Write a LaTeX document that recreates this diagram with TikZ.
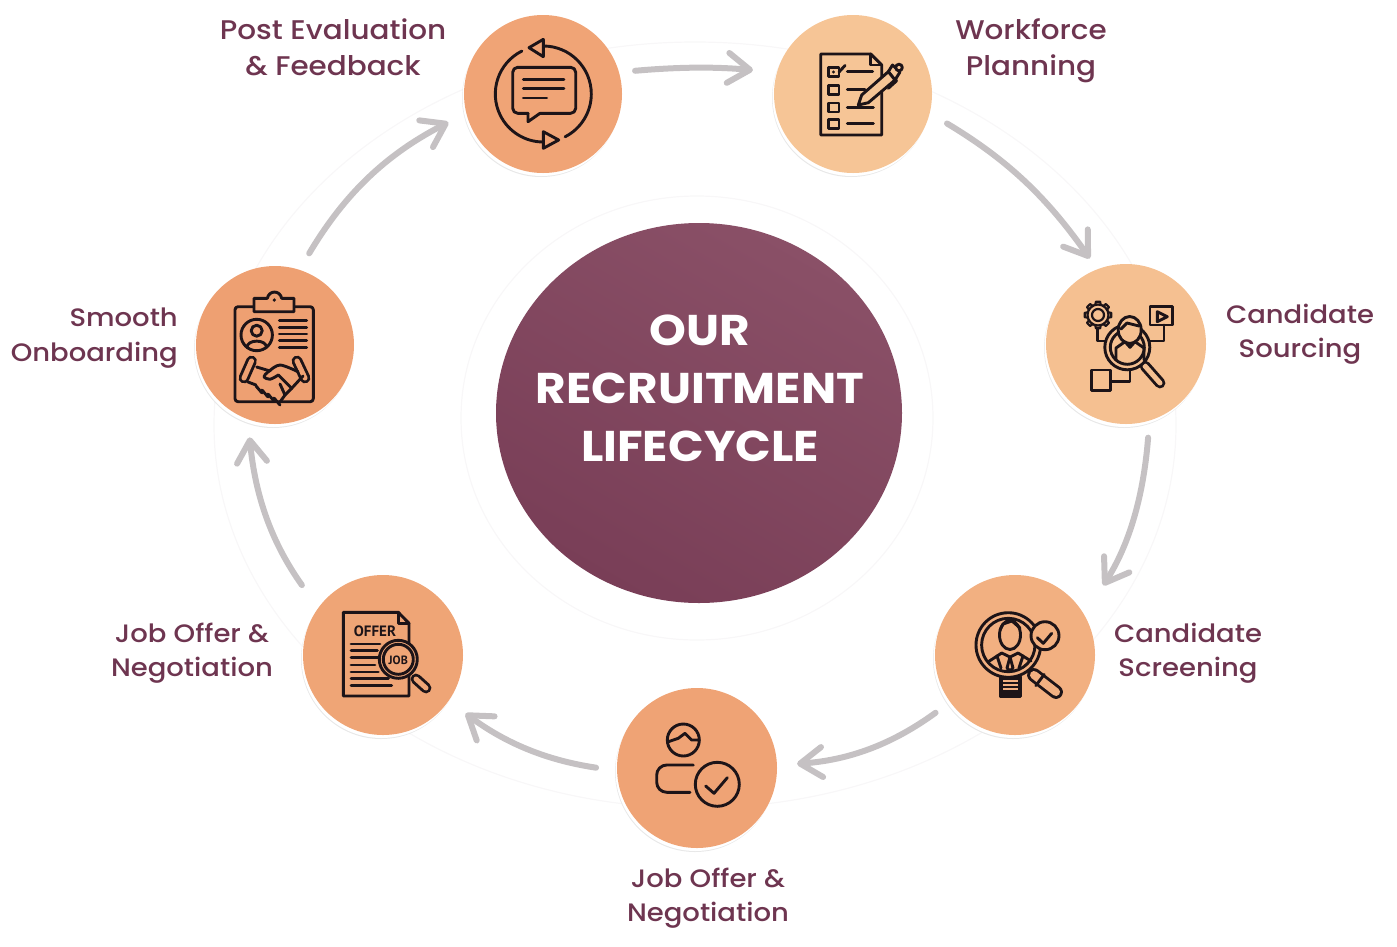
\documentclass[tikz,border=0pt]{standalone}
\usepackage{fontspec}
\setmainfont{Poppins}[UprightFont=* Medium,BoldFont=* Bold,FakeStretch=1.09]
\newfontfamily\iconfont{PT Sans}
\usepackage{tikz}
\usetikzlibrary{arrows.meta,shapes.geometric,shadows}
\definecolor{labelink}{HTML}{6E3550}
\definecolor{iconink}{HTML}{1D1418}
\definecolor{flowgray}{HTML}{C5C1C3}
\definecolor{ringgray}{HTML}{F8F7F8}
\definecolor{hubdark}{HTML}{793E57}
\definecolor{hublight}{HTML}{8A5067}
\definecolor{peachA}{HTML}{F0A476}
\definecolor{peachB}{HTML}{F6C596}
\definecolor{peachC}{HTML}{F5C091}
\definecolor{peachD}{HTML}{F2B081}
\definecolor{peachE}{HTML}{EFA375}
\definecolor{peachF}{HTML}{EFA576}
\definecolor{peachG}{HTML}{EEA072}
\tikzset{
  stepcircle/.style={circle, inner sep=0pt, minimum size=#1,
    general shadow={fill=black!9, shadow xshift=-2pt, shadow yshift=-4pt},
    general shadow={fill=white, shadow xshift=-1.5pt, shadow yshift=-3pt}},
  hub/.style={ellipse, inner sep=0pt, minimum width=406pt, minimum height=380pt,
    shading=axis, bottom color=hubdark, top color=hublight, shading angle=-30},
  steplabel/.style={text=labelink, align=center, inner sep=0pt, font=\fontsize{#1}{34.5}\selectfont},
  steplabel/.default=25.2,
  toplabel/.style={text=labelink, align=center, inner sep=0pt, font=\fontsize{27}{36}\selectfont},
  hubtext/.style={text=white, align=center, inner sep=0pt, font=\bfseries\fontsize{43}{58}\selectfont},
  flow/.style={draw=flowgray, line width=6pt, line cap=round, line join=round,
    -{Straight Barb[length=22pt, width=30pt, round]}},
  icon/.style={draw=iconink, line width=2.9pt, line cap=round, line join=round},
  handle/.style={draw=iconink, line width=2.9pt, double=#1, double distance=5pt, line cap=round},
  ring/.style={draw=ringgray, line width=1.2pt}
}
\begin{document}
\begin{tikzpicture}[x=1pt, y=-1pt]
            \useasboundingbox (0,0) rectangle (1397,946);
            \draw [ring] (695,425) ellipse [x radius=481, y radius=383];
            \draw [ring] (697,418) ellipse [x radius=236, y radius=222];

            \foreach \i/\x/\y/\d/\c in {1/543/94/158/peachA, 2/853/94/158/peachB, 3/1126/344/160/peachC, 4/1015/655/160/peachD, 5/697/768/160/peachE, 6/383/655/160/peachF, 7/275/345/158/peachG} {
                \node [stepcircle=\d pt, fill=\c] (A\i) at (\x, \y) {};
            }
            \node [hub] (hub) at (699, 413) {};
            \node [hubtext] (hubtitle) at (700, 388) {OUR\\RECRUITMENT\\LIFECYCLE};

            \node [toplabel] (L1) at (333, 47.5) {Post Evaluation\\\& Feedback};
            \node [toplabel] (L2) at (1031, 50.5) {Workforce\\Planning};
            \node [steplabel] (L3) at (1300, 334) {Candidate\\Sourcing};
            \node [steplabel] (L4) at (1188, 653) {Candidate\\Screening};
            \node [steplabel] (L5) at (708, 898) {Job Offer \&\\Negotiation};
            \node [steplabel] (L6) at (192, 653) {Job Offer \&\\Negotiation};
            \node [steplabel, align=right, anchor=east] (L7) at (178, 338) {Smooth\\Onboarding};

            \draw [flow, shorten <=16pt, shorten >=24pt] (A1.16) to [bend left=5] (A2.164);
            \draw [flow, shorten <=20pt, shorten >=13pt] (A2.-14) to [bend left=12] (A3.111);
            \draw [flow, shorten <=17pt, shorten >=35pt] (A3.-73) to [bend left=14] (A4.30);
            \draw [flow, shorten <=18pt, shorten >=20pt] (A4.216) to [bend left=16] (A5.2);
            \draw [flow, shorten <=21pt, shorten >=21pt] (A5.182) to [bend left=14] (A6.-35);
            \draw [flow, shorten <=28pt, shorten >=18pt] (A6.144) to [bend left=15] (A7.-110);
            \draw [flow, shorten <=19pt, shorten >=20pt] (A7.72) to [bend left=16] (A1.194);

            % post evaluation
            \draw [icon] (543.3,94) ++(243.5:48) arc [start angle=243.5, end angle=90, radius=48];
            \draw [icon] (543.3,94) ++(-90:48) arc [start angle=-90, end angle=63, radius=48];
            \draw [icon, fill=peachA] (529,47.7) -- (543.3,39.3) -- (543.3,56.7) -- cycle;
            \draw [icon, fill=peachA] (558.7,140) -- (543.3,131.7) -- (543.3,148.3) -- cycle;
            \draw [icon, rounded corners=5pt] (528,113.3) -- (512.7,113.3) -- (512.7,67.3) -- (575.7,67.3) -- (575.7,113.3) -- (540,113.3);
            \draw [icon] (528,113.3) -- (528,121.7) -- (540,113.3);
            \foreach \y/\x in {79.3/564, 88.3/564, 98/546.7} {
                \draw [icon] (523.3,\y) -- (\x,\y);
            }

            % workforce planning
            \draw [icon] (870.7,54) -- (820.7,54) -- (820.7,135) -- (881.7,135) -- (881.7,65) -- cycle;
            \draw [icon] (870.7,54) -- (870.7,65) -- (881.7,65);
            \foreach \y/\e in {67.3/872.7, 85.3/865, 103/873.3, 119.3/873.3} {
                \draw [icon] (828.7,\y) rectangle (839,\y+9);
                \draw [icon] (847.3,\y+4.5) -- (\e,\y+4.5);
            }
            \draw [icon] (839,72) -- (845,65.5);
            \fill [iconink] (833.5,72) circle [radius=1.6];
            \draw [icon, fill=peachB] (888.3,71.7) -- (892.5,65) -- (900,72) -- (895,80) -- cycle;
            \draw [icon, fill=peachB] (899,67.5) circle [radius=3.3];
            \draw [icon, fill=peachB] (858.3,105) -- (861.7,95) -- (888.3,71.7) -- (895,80) -- (868.3,102.7) -- cycle;
            \draw [icon] (888.3,88.3) -- (896.7,80.7);

            % candidate sourcing
            \foreach \a in {0,45,...,315} {
                \draw [icon, line width=2.2pt, shift={(1098,315)}] (\a-15:10.5) -- (\a-9:13.5) -- (\a+9:13.5) -- (\a+15:10.5);
            }
            \draw [icon, line width=2.2pt] (1098,315) circle [radius=10.5];
            \draw [icon, line width=2.2pt] (1098,315) circle [radius=6];
            \draw [icon] (1097.7,328.5) -- (1097.7,341) -- (1106.7,341);
            \draw [icon] (1150,306.7) rectangle (1172.7,325);
            \draw [icon] (1157.3,311.7) -- (1157.3,321.7) -- (1167.3,316.7) -- cycle;
            \draw [icon] (1164,325) -- (1164,341) -- (1147.3,341);
            \draw [icon] (1091.7,370) rectangle (1110.7,390.7);
            \draw [icon] (1110.7,381.7) -- (1130,381.7) -- (1130,370);
            \draw [handle=peachC] (1145,366) -- (1160,383);
            \draw [icon, fill=peachC] (1127.3,347.3) circle [radius=22.5];
            \draw [icon] (1127.3,347.3) circle [radius=17];
            \draw [icon, fill=peachC] (1129.7,330) ellipse [x radius=11.5, y radius=13.5];
            \draw [icon] (1121,329) -- (1127,323) -- (1139,326);
            \draw [icon] (1116,360) -- (1116,348) -- (1125,341.7) -- (1130,347.3) -- (1135,341.7) -- (1144,348) -- (1144,360);

            % candidate screening
            \draw [icon, fill=iconink] (1000,676.7) rectangle (1020.7,696.7);
            \foreach \y in {681,685,689} {
                \draw [draw=peachD, line width=1.2pt] (1003,\y) -- (1018,\y);
            }
            \draw [handle=peachD, double distance=8pt] (1034,675) -- (1056,692);
            \draw [icon] (1035.8,685.6) -- (1044.2,674.4);
            \draw [icon, fill=peachD] (1008.3,645) circle [radius=32.3];
            \draw [icon] (1008.3,645) circle [radius=26.7];
            \draw [icon] (1010,635) ellipse [x radius=10.5, y radius=14.5];
            \draw [icon] (1000,630) -- (1003,624) -- (1012,621) -- (1020,628);
            \draw [icon] (988.3,661.7) -- (1001.7,653) -- (1010,657) -- (1018,653) -- (1031,661);
            \draw [icon] (1010,657) -- (1007,668) -- (1010,671) -- (1013,668) -- cycle;
            \draw [icon] (997,656) -- (1001,668);
            \draw [icon] (1023,656) -- (1019,668);
            \draw [icon, fill=peachD] (1045,635.7) circle [radius=14];
            \draw [icon] (1037.3,637.7) -- (1043.3,643.3) -- (1051.7,633.3);

            % job offer bottom
            \draw [icon] (683.3,740) circle [radius=16];
            \draw [icon] (668.3,741.7) -- (678.3,738.3) -- (685,733.3) -- (691.7,740) -- (699.3,740);
            \draw [icon, rounded corners=10pt] (693.3,765) -- (656.7,765) -- (656.7,792.3) -- (690,792.3);
            \draw [icon] (717.3,784.3) circle [radius=22];
            \draw [icon] (705.7,786) -- (714,793.3) -- (727.3,777.7);

            % job offer left
            \draw [icon] (398.3,612.3) -- (343.3,612.3) -- (343.3,696) -- (409,696) -- (409,623.3) -- cycle;
            \draw [icon] (398.3,612.3) -- (398.3,623.3) -- (409,623.3);
            \node [text=iconink, inner sep=0pt, font=\iconfont\bfseries\fontsize{15}{15}\selectfont] (offertext) at (375,631) {OFFER};
            \foreach \y/\e in {644/380, 650.7/377.3, 657.7/378.3, 665/375, 672/378.3, 678.7/388.3, 685.7/391.7} {
                \draw [icon] (351,\y) -- (\e,\y);
            }
            \draw [handle=peachF] (416,679) -- (426,688);
            \draw [icon, fill=peachF] (398.3,659.3) circle [radius=19];
            \draw [icon] (398.3,659.3) circle [radius=15];
            \node [text=iconink, inner sep=0pt, font=\iconfont\bfseries\fontsize{12}{12}\selectfont] (jobtext) at (398.3,660) {JOB};

            % smooth onboarding
            \draw [icon, rounded corners=3pt] (254,306.7) -- (235,306.7) -- (235,401.7) -- (313.3,401.7) -- (313.3,306.7) -- (294,306.7);
            \draw [icon, fill=peachG] (254,311.7) -- (254,298.3) -- (267.3,298.3) .. controls (269,290) and (280,290) .. (281.7,298.3) -- (294,298.3) -- (294,311.7) -- cycle;
            \fill [iconink] (274.3,300) circle [radius=1.8];
            \draw [icon] (256.7,335) circle [radius=15.7];
            \draw [icon] (256.7,330.7) circle [radius=5.5];
            \draw [icon] (247,347.5) .. controls (247,339) and (266.5,339) .. (266.5,347.5);
            \foreach \y in {320.7,327.5,334,340.5,347.3} {
                \draw [icon] (279.3,\y) -- (306.7,\y);
            }
            \draw [handle=peachG] (251.5,361) -- (244,378);
            \draw [handle=peachG] (297,361) -- (305,378);
            \draw [icon] (256.7,367) -- (270,371);
            \draw [icon, smooth] plot coordinates {(298,371.7) (280,365) (268.3,371.7) (264,376.7) (270,379.3) (278.3,375)};
            \draw [icon] (278.3,375) -- (291.7,388.3) -- (285,395);
            \draw [icon] (303,376) -- (291.7,388.3);
            \draw [icon] (248,382) -- (256,385);
            \foreach \x/\y in {256/386, 262/390, 268/394, 274/398} {
                \draw [icon] (\x,\y) -- (\x+6,\y+7);
            }
            \draw [icon] (280,384) -- (285,395) -- (280,402);

\end{tikzpicture}
\end{document}
